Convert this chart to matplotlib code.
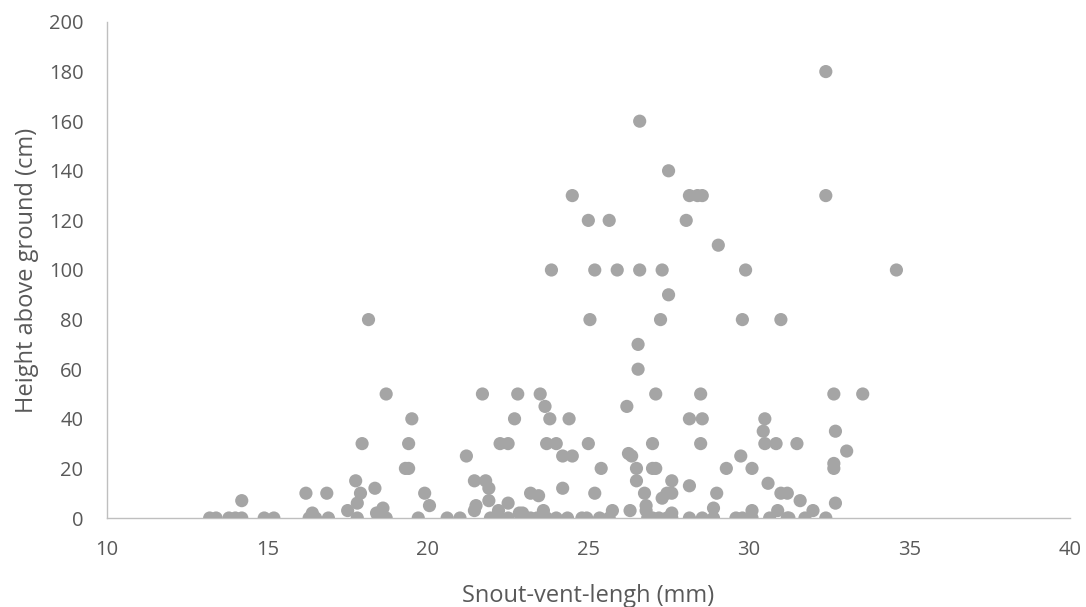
import matplotlib.pyplot as plt

# snout-vent length (mm) and perch height (cm)
svl = [
    13.2, 13.4, 13.8, 14.0, 14.2, 14.2, 14.9, 15.2, 16.2, 16.3, 16.4, 16.5,
    16.9, 16.85, 17.5, 17.75, 17.9, 17.8, 17.8, 17.95, 18.15, 18.35, 18.4, 18.6,
    18.45, 18.7, 18.7, 19.5, 19.4, 19.3, 19.4, 19.9, 20.05, 19.7, 20.6, 21.0,
    21.2, 21.45, 21.8, 21.9, 21.45, 21.5, 21.9, 21.7, 21.95, 22.2, 22.2, 22.5,
    22.5, 22.25, 22.5, 22.7, 22.8, 22.85, 22.95, 23.2, 23.45, 23.2, 23.4, 23.6,
    23.7, 24.0, 23.5, 23.65, 23.8, 23.7, 24.0, 24.2, 24.5, 24.4, 24.2, 24.35,
    24.8, 24.95, 25.35, 25.65, 25.0, 25.2, 25.4, 25.75, 26.2, 26.25, 26.35, 26.3,
    26.5, 26.5, 26.75, 26.8, 26.8, 26.85, 27.0, 27.2, 27.45, 27.6, 27.1, 27.0,
    27.0, 27.1, 27.3, 27.45, 27.6, 27.6, 27.6, 28.15, 28.55, 28.5, 28.5, 28.15,
    28.15, 28.55, 28.9, 28.9, 29.0, 29.3, 29.75, 30.1, 29.6, 29.8, 30.1, 30.1,
    30.5, 30.45, 30.5, 30.85, 30.6, 31.0, 31.2, 30.65, 30.9, 31.2, 31.5, 32.65,
    33.55, 32.7, 33.05, 32.65, 32.65, 31.6, 32.0, 32.7, 31.25, 31.75, 32.4,
    27.5, 24.5, 28.15, 28.4, 28.55, 25.0, 25.65, 28.05, 29.05, 23.85, 25.2, 25.9,
    26.6, 27.3, 29.9, 27.5, 25.05, 27.25, 29.8, 31.0, 26.55, 26.55, 32.4, 32.4,
    34.6, 26.6,
]
height = [
    0, 0, 0, 0, 0, 7, 0, 0, 10, 0, 2, 0,
    0, 10, 3, 15, 10, 6, 0, 30, 80, 12, 2, 4,
    0, 0, 50, 40, 30, 20, 20, 10, 5, 0, 0, 0,
    25, 15, 15, 12, 3, 5, 7, 50, 0, 3, 0, 0,
    6, 30, 30, 40, 50, 2, 2, 10, 9, 0, 0, 3,
    0, 0, 50, 45, 40, 30, 30, 25, 25, 40, 12, 0,
    0, 0, 0, 0, 30, 10, 20, 3, 45, 26, 25, 3,
    20, 15, 10, 5, 3, 0, 0, 0, 0, 0, 50, 30,
    20, 20, 8, 10, 10, 15, 2, 40, 40, 50, 30, 13,
    0, 0, 0, 4, 10, 20, 25, 20, 0, 0, 3, 0,
    40, 35, 30, 30, 14, 10, 10, 0, 3, 0, 30, 50,
    50, 35, 27, 22, 20, 7, 3, 6, 0, 0, 0,
    140, 130, 130, 130, 130, 120, 120, 120, 110, 100, 100, 100,
    100, 100, 100, 90, 80, 80, 80, 80, 70, 60, 180, 130,
    100, 160,
]

x_ticks = [10, 15, 20, 25, 30, 35, 40]
y_ticks = list(range(0, 201, 20))

plt.rcParams['font.family'] = ['Open Sans', 'DejaVu Sans']

fig = plt.figure(figsize=(10.86, 6.07), dpi=100)
ax = fig.add_axes([0.0985, 0.1466, 0.8865, 0.8172])

ax.scatter(svl, height, s=90, color='#A5A5A5', edgecolors='none', zorder=3)

ax.set_xlim(10, 40)
ax.set_ylim(0, 200)
ax.set_xticks(x_ticks)
ax.set_yticks(y_ticks)
ax.tick_params(length=0, labelsize=14.5, colors='#595959')
ax.tick_params(axis='x', pad=16)
ax.tick_params(axis='y', pad=17)

for side in ['top', 'right']:
    ax.spines[side].set_visible(False)
for side in ['left', 'bottom']:
    ax.spines[side].set_color('#BFBFBF')
    ax.spines[side].set_linewidth(1)

ax.set_xlabel("Snout-vent-lengh (mm)", fontsize=17, color='#595959', labelpad=17)
ax.set_ylabel("Height above ground (cm)", fontsize=17, color='#595959', labelpad=7)

plt.savefig("out.png")
plt.close()
